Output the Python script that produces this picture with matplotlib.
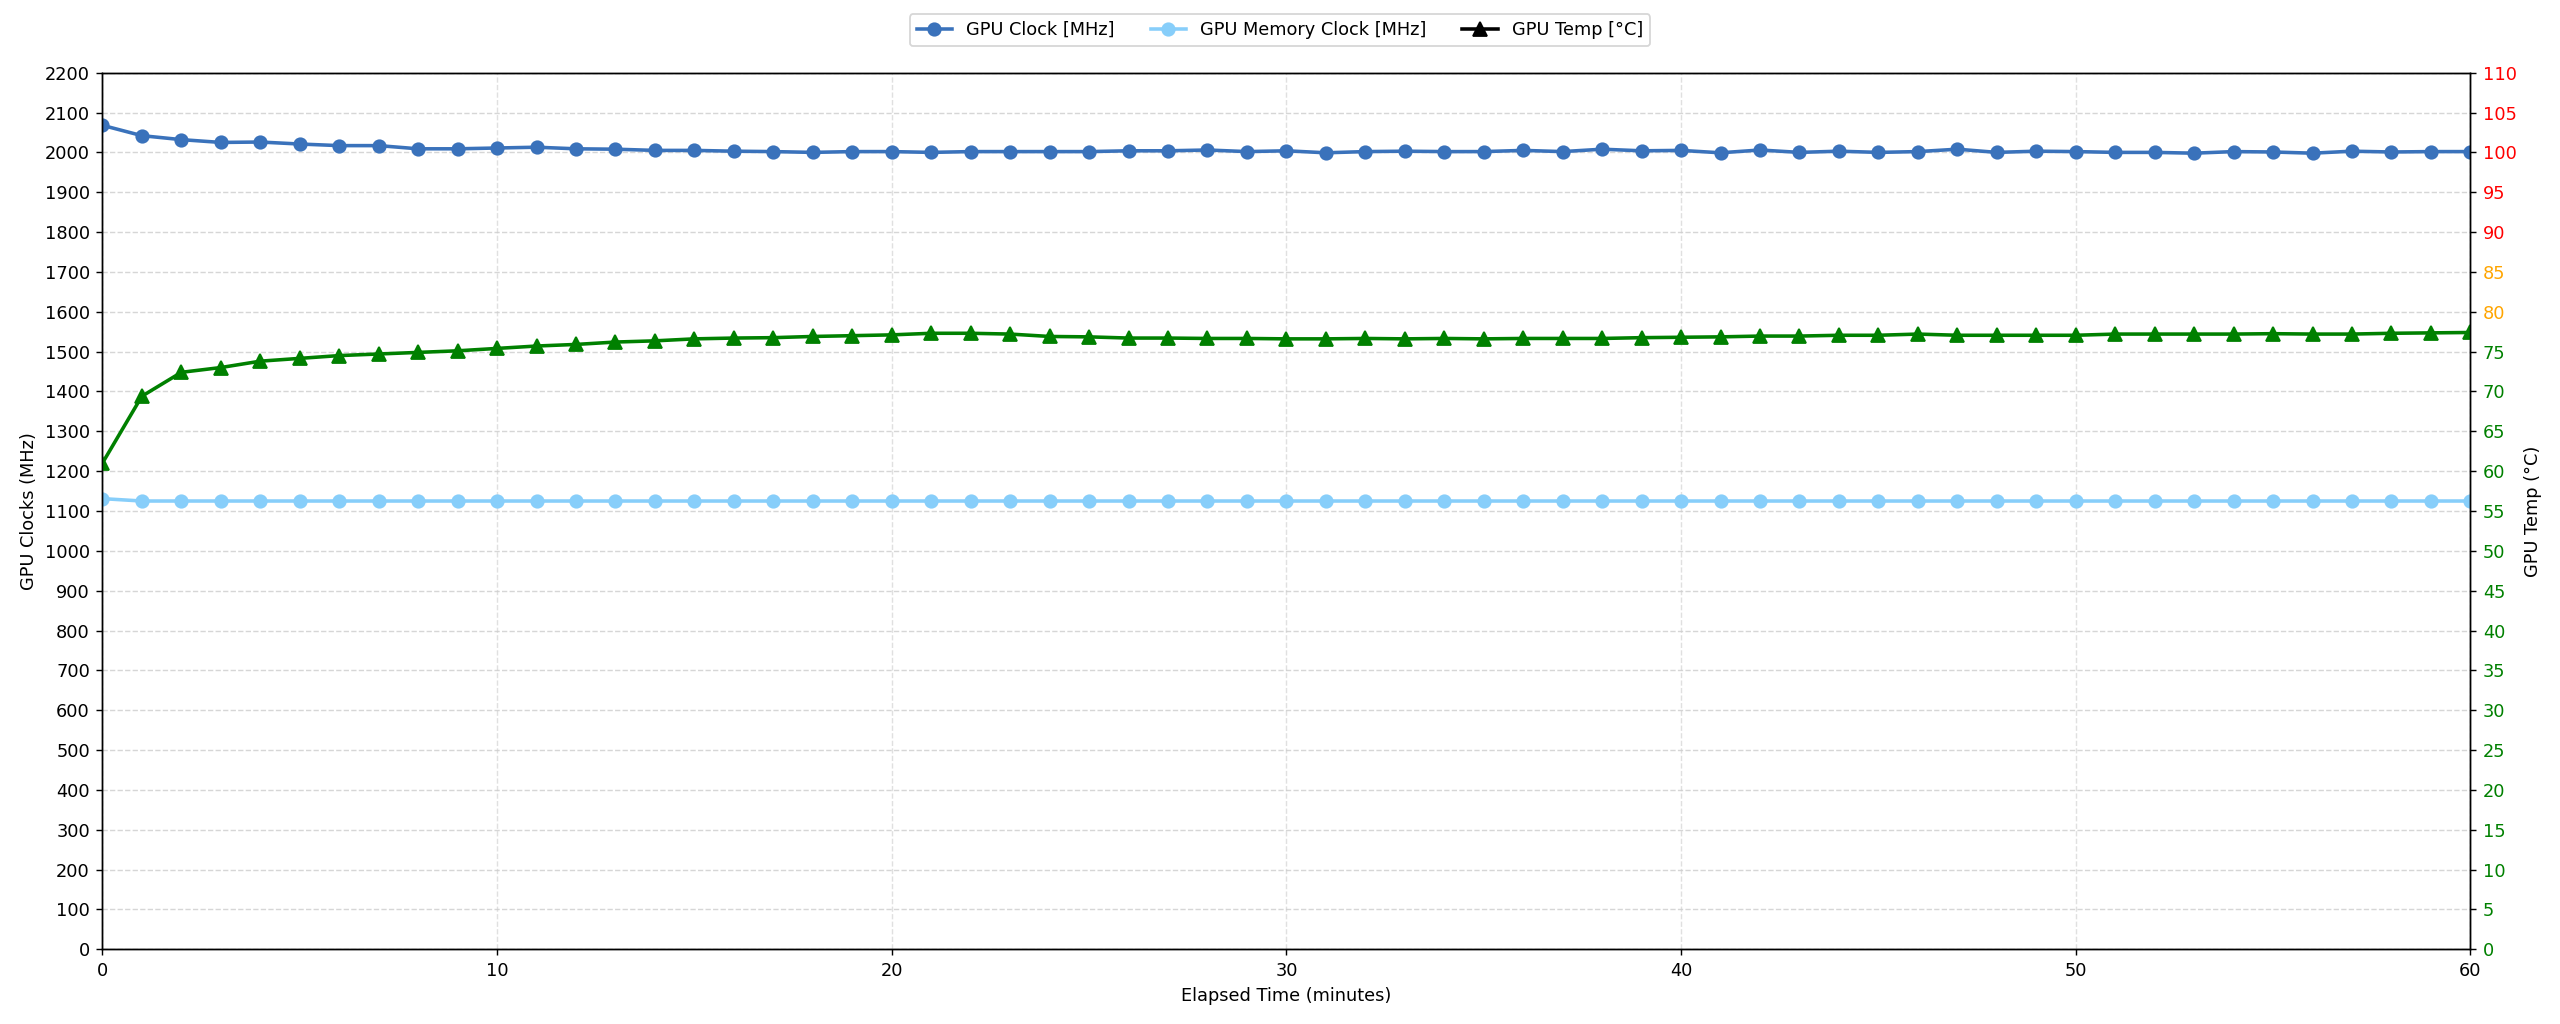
import matplotlib
matplotlib.use('Agg')
import matplotlib.pyplot as plt
from matplotlib.lines import Line2D

# elapsed minutes 0..60
minutes = list(range(61))

gpu_clock = [2068, 2042, 2032, 2025, 2026, 2021, 2017, 2017, 2009, 2009,
             2011, 2013, 2009, 2008, 2005, 2005, 2003, 2002, 2000, 2002,
             2002, 2000, 2002, 2002, 2002, 2002, 2004, 2004, 2006, 2002,
             2004, 1999, 2002, 2003, 2002, 2002, 2005, 2002, 2008, 2004,
             2005, 1999, 2006, 2000, 2003, 2000, 2002, 2008, 2000, 2003,
             2002, 2000, 2000, 1998, 2002, 2001, 1998, 2003, 2001, 2002,
             2002]

gpu_mem_clock = [1131] + [1125] * 60

gpu_temp = [61.0, 69.4, 72.4, 73.0, 73.8, 74.15, 74.5, 74.7, 74.9, 75.1,
            75.4, 75.7, 75.9, 76.2, 76.35, 76.6, 76.7, 76.75, 76.9, 77.0,
            77.1, 77.3, 77.3, 77.2, 76.9, 76.85, 76.7, 76.7, 76.65, 76.65,
            76.6, 76.6, 76.65, 76.6, 76.65, 76.6, 76.65, 76.65, 76.65, 76.75,
            76.8, 76.85, 76.95, 76.95, 77.05, 77.05, 77.2, 77.05, 77.05, 77.05,
            77.05, 77.2, 77.2, 77.2, 77.2, 77.25, 77.2, 77.2, 77.3, 77.35,
            77.4]

clock_ticks = list(range(0, 2201, 100))
temp_ticks = list(range(0, 111, 5))


def temp_color(t):
    if t >= 90:
        return 'red'
    if t >= 80:
        return 'orange'
    return 'green'


fig, ax = plt.subplots(figsize=(20, 8), dpi=128)
fig.subplots_adjust(left=0.04, right=0.965, top=0.929, bottom=0.073)

ax.plot(minutes, gpu_clock, color='#3a72bb', marker='o', markersize=7, linewidth=2,
        label='GPU Clock [MHz]')
ax.plot(minutes, gpu_mem_clock, color='#87cefa', marker='o', markersize=7, linewidth=2,
        label='GPU Memory Clock [MHz]')
ax.set_xlim(0, 60)
ax.set_ylim(0, 2200)
ax.set_yticks(clock_ticks)
ax.set_xlabel('Elapsed Time (minutes)')
ax.set_ylabel('GPU Clocks (MHz)')
ax.grid(True, axis='y', linestyle='--', color='#cccccc', alpha=0.8)
ax.grid(True, axis='x', linestyle='--', color='#cccccc', alpha=0.6)

ax2 = ax.twinx()
ax2.plot(minutes, gpu_temp, color='green', marker='^', markersize=8, linewidth=2)
ax2.set_ylim(0, 110)
ax2.set_yticks(temp_ticks)
ax2.set_ylabel('GPU Temp (°C)')
for lbl, t in zip(ax2.get_yticklabels(), temp_ticks):
    lbl.set_color(temp_color(t))

handles, labels = ax.get_legend_handles_labels()
handles.append(Line2D([], [], color='black', marker='^', markersize=8, linewidth=2))
labels.append('GPU Temp [°C]')
fig.legend(handles, labels, loc='upper center', ncol=3, bbox_to_anchor=(0.5, 0.995))

fig.savefig('out.png')
